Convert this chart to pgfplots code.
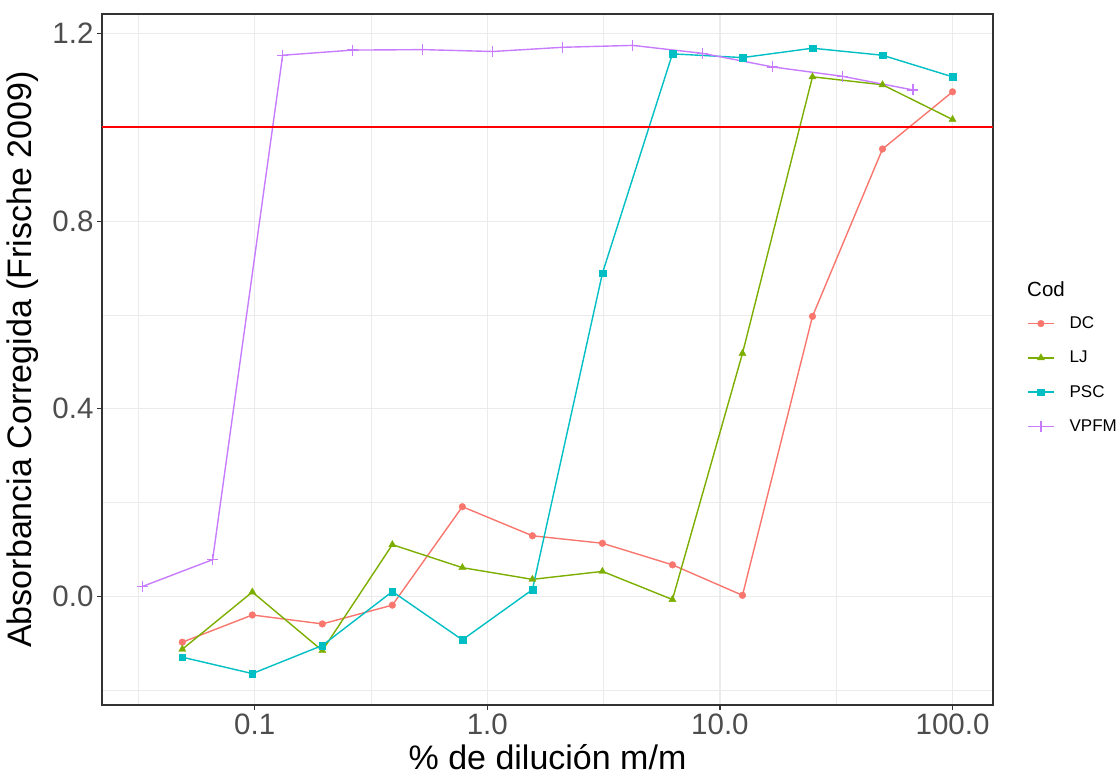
\documentclass[border=0pt]{standalone}
\usepackage{fontspec}
\setmainfont{Liberation Sans}
\usepackage{pgfplots}
\pgfplotsset{compat=1.18}
\definecolor{cDC}{HTML}{F8766D}
\definecolor{cLJ}{HTML}{7CAE00}
\definecolor{cPSC}{HTML}{00BFC4}
\definecolor{cVP}{HTML}{C77CFF}
\definecolor{hline}{HTML}{FF0000}
\definecolor{gridc}{HTML}{EBEBEB}
\definecolor{gtwenty}{HTML}{333333}
\definecolor{gthirty}{HTML}{4D4D4D}
\begin{document}
\begin{tikzpicture}[x=1pt,y=1pt]
\useasboundingbox (0,0) rectangle (1118,774);
\begin{axis}[
  at={(102pt,69pt)}, anchor=south west,
  scale only axis, width=891pt, height=691pt,
  xmode=log, xmin=0.02205, xmax=149.3, ymin=-0.232, ymax=1.242,
  xtick={0.1,1,10,100}, xticklabels={0.1,1.0,10.0,100.0},
  minor xtick={0.0316228,0.316228,3.16228,31.6228},
  ytick={0,0.4,0.8,1.2}, yticklabels={0.0,0.4,0.8,1.2},
  minor ytick={-0.2,0.2,0.6,1.0},
  grid=both,
  major grid style={line width=1.4pt, color=gridc},
  minor grid style={line width=0.8pt, color=gridc},
  axis line style={line width=1.2pt, color=gtwenty},
  tick align=outside, tick pos=left,
  major tick length=5pt, minor tick length=0pt,
  every tick/.style={line width=1.2pt, color=gtwenty},
  ticklabel style={font=\fontsize{29.5}{35}\selectfont, text=gthirty},
  xlabel={\% de dilución m/m},
  ylabel={Absorbancia Corregida (Frische 2009)},
  label style={font=\fontsize{34}{40}\selectfont},
  xlabel style={at={(axis description cs:0.5,0)}, anchor=base, yshift=-64pt},
  ylabel style={at={(axis description cs:0,0.5)}, anchor=base, yshift=70pt},
  legend style={at={(axis description cs:1,0.4776)}, anchor=west, xshift=34pt,
    draw=none, fill=none, font=\fontsize{17}{20}\selectfont, row sep=17pt,
    inner sep=0pt, /tikz/every odd column/.append style={column sep=13pt}},
  legend cell align=left,
  legend image code/.code={\draw[mark repeat=2,mark phase=2,#1] plot coordinates {(0pt,0pt) (13pt,0pt) (26pt,0pt)};},
]
\addplot[cDC, line width=1.4pt, mark=*, mark size=3.4pt, mark options={solid, fill=cDC, draw=cDC, line width=0.3pt}] coordinates {
(0.048828125,-0.098) (0.09765625,-0.040) (0.1953125,-0.059) (0.390625,-0.019)
(0.78125,0.191) (1.5625,0.129) (3.125,0.113) (6.25,0.067) (12.5,0.002)
(25,0.597) (50,0.954) (100,1.076)};
\addlegendentry{DC}
\addplot[cLJ, line width=1.4pt, mark=triangle*, mark size=4.2pt, mark options={solid, fill=cLJ, draw=cLJ, line width=0.3pt}] coordinates {
(0.048828125,-0.113) (0.09765625,0.009) (0.1953125,-0.116) (0.390625,0.110)
(0.78125,0.061) (1.5625,0.036) (3.125,0.053) (6.25,-0.007) (12.5,0.518)
(25,1.108) (50,1.091) (100,1.017)};
\addlegendentry{LJ}
\addplot[cPSC, line width=1.4pt, mark=square*, mark size=3.3pt, mark options={solid, fill=cPSC, draw=cPSC, line width=0.3pt}] coordinates {
(0.048828125,-0.130) (0.09765625,-0.165) (0.1953125,-0.105) (0.390625,0.010)
(0.78125,-0.093) (1.5625,0.014) (3.125,0.689) (6.25,1.157) (12.5,1.149)
(25,1.169) (50,1.154) (100,1.108)};
\addlegendentry{PSC}
\addplot[cVP, line width=1.4pt, mark=+, mark size=5.5pt, mark options={solid, line width=1.4pt}] coordinates {
(0.032959,0.021) (0.065918,0.078) (0.131836,1.154) (0.263672,1.165)
(0.527344,1.166) (1.054688,1.162) (2.109375,1.171) (4.21875,1.175)
(8.4375,1.158) (16.875,1.129) (33.75,1.109) (67.5,1.080)};
\addlegendentry{VPFM}
\addplot[color=hline, line width=2pt, mark=none, forget plot] coordinates {(0.02205,1) (149.3,1)};
\end{axis}
\node[anchor=base west, font=\fontsize{20.5}{24}\selectfont, inner sep=0pt] at (1027,477.3) {Cod};
\end{tikzpicture}
\end{document}
